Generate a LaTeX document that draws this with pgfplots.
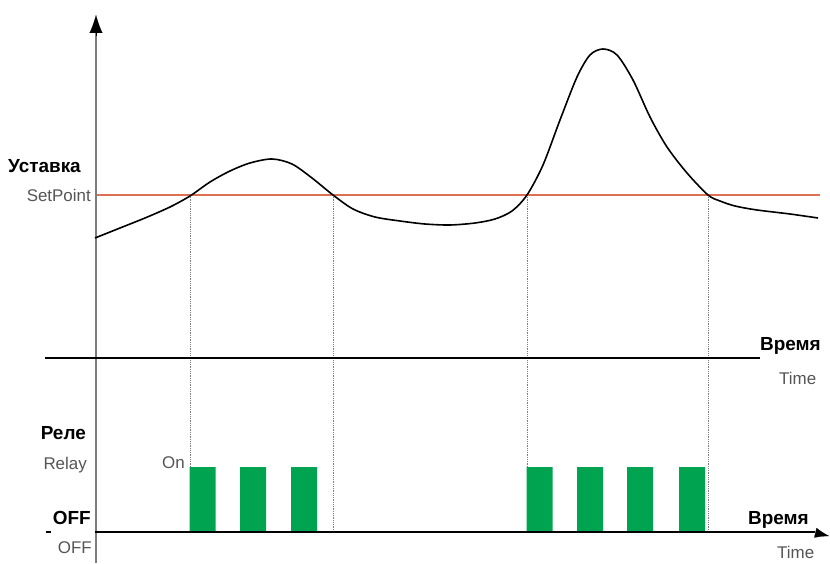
\documentclass[border=0pt]{standalone}
\usepackage{pgfplots}
\pgfplotsset{compat=1.18}
\usepackage{fontspec}
\setmainfont{Liberation Sans}
\usetikzlibrary{arrows.meta}
\definecolor{relaygreen}{RGB}{0,163,80}
\definecolor{spred}{RGB}{222,112,82}
\definecolor{txtgray}{RGB}{85,85,85}
\definecolor{axgray}{RGB}{125,125,125}
\newcommand{\bl}{\fontsize{19}{21}\selectfont\bfseries}
\newcommand{\gl}{\fontsize{17}{19}\selectfont\color{txtgray}}
\begin{document}
\begin{tikzpicture}
\begin{axis}[
  scale only axis, width=830bp, height=563bp,
  xmin=0, xmax=830, ymin=-32, ymax=531,
  hide axis, clip=false,
]
% invisible frame for bounding box
\addplot[draw=none] coordinates {(0,-32) (830,531)};
% dotted verticals
\addplot[densely dotted, axgray, line width=0.8bp] coordinates {(190,336) (190,0)};
\addplot[densely dotted, axgray, line width=0.8bp] coordinates {(333,336) (333,0)};
\addplot[densely dotted, axgray, line width=0.8bp] coordinates {(527,336) (527,0)};
\addplot[densely dotted, axgray, line width=0.8bp] coordinates {(708,336) (708,0)};
% relay bars
\addplot[ybar, bar width=26, fill=relaygreen, draw=none] coordinates {
  (202.5,64) (253,64) (304,64) (539.5,64) (590,64) (640,64) (692,64)};
% setpoint line
\addplot[spred, line width=1.3bp] coordinates {(96,336) (820,336)};
% vertical axis
\addplot[axgray, line width=1.8bp] coordinates {(96,-32) (96,500)};
\addplot[black, line width=0.1bp, -{Latex[length=18bp,width=13bp]}] coordinates {(96,495) (96,516)};
% upper time line
\addplot[black, line width=1.8bp] coordinates {(45,173) (760,173)};
% lower time line
\addplot[black, line width=1.8bp] coordinates {(46,-1) (51,-1)};
\addplot[black, line width=1.8bp] coordinates {(95,-1) (815,-1)};
\addplot[black, line width=0.1bp, -{Latex[length=14bp,width=10bp]}] coordinates {(812,-1) (829,-5)};
% curve
\addplot[black, line width=1.6bp, smooth] coordinates {
  (95,293) (120,303) (145,313) (170,324) (190,335) (210,349) (230,360)
  (250,368) (272,372) (292,367) (312,353) (333,336) (353,322) (375,314)
  (400,310) (425,307) (450,306) (475,308) (495,312) (512,320) (527,336)
  (543,366) (560,411) (577,454) (590,476) (603,482) (617,476) (633,451)
  (650,414) (667,384) (687,358) (708,336) (720,330) (735,325) (757,321)
  (790,317) (818,313)};
% labels
\node[anchor=west, inner sep=0pt] at (axis cs:8,365) {\bl Уставка};
\node[anchor=east, inner sep=0pt] at (axis cs:91,336) {\gl SetPoint};
\node[anchor=east, inner sep=0pt] at (axis cs:86,98) {\bl Реле};
\node[anchor=east, inner sep=0pt] at (axis cs:87,66) {\gl Relay};
\node[anchor=east, inner sep=0pt] at (axis cs:185,68) {\gl On};
\node[anchor=east, inner sep=0pt] at (axis cs:91,13) {\bl OFF};
\node[anchor=east, inner sep=0pt] at (axis cs:92,-17) {\gl OFF};
\node[anchor=west, inner sep=1pt, fill=white] at (axis cs:759,185) {\bl Время};
\node[anchor=west, inner sep=0pt] at (axis cs:779,153) {\gl Time};
\node[anchor=west, inner sep=1pt, fill=white] at (axis cs:747,11) {\bl Время};
\node[anchor=west, inner sep=0pt] at (axis cs:777,-21) {\gl Time};
\end{axis}
\end{tikzpicture}
\end{document}
